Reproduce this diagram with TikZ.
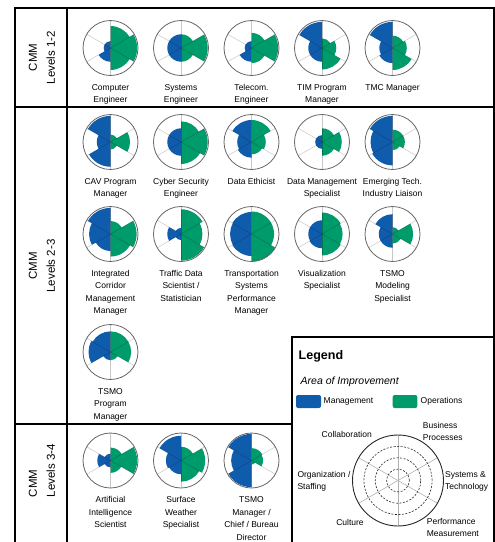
\documentclass[tikz,border=0pt]{standalone}
\usepackage{fontspec}
\setmainfont{Liberation Sans}
\definecolor{mgmtblue}{RGB}{16,92,172}
\definecolor{opsgreen}{RGB}{0,155,106}
\tikzset{
  frame/.style={line width=1.6pt},
  spoke/.style={black, opacity=0.22, line width=0.5pt},
  rim/.style={black!60, line width=0.8pt},
  rolelabel/.style={anchor=north, align=center, inner sep=0pt, font=\fontsize{8.5}{12.5}\selectfont},
  levellabel/.style={rotate=90, inner sep=0pt, font=\fontsize{11.5}{18}\selectfont},
  legendtext/.style={inner sep=0pt, font=\fontsize{8.5}{12}\selectfont},
  keybox/.style={rounded corners=2pt},
}
\def\rr{27.5}
\newcommand{\rolechart}[9]{%
  \begin{scope}[shift={(#2)}]
    \coordinate (#1) at (0,0);
    \fill[mgmtblue] (0,0) -- (90:#3*\rr) arc[start angle=90,end angle=150,radius=#3*\rr]
      -- (150:#4*\rr) arc[start angle=150,end angle=210,radius=#4*\rr]
      -- (210:#5*\rr) arc[start angle=210,end angle=270,radius=#5*\rr] -- cycle;
    \fill[opsgreen] (0,0) -- (90:#6*\rr) arc[start angle=90,end angle=30,radius=#6*\rr]
      -- (30:#7*\rr) arc[start angle=30,end angle=-30,radius=#7*\rr]
      -- (-30:#8*\rr) arc[start angle=-30,end angle=-90,radius=#8*\rr] -- cycle;
    \foreach \a in {90,30,-30,-90,-150,150} \draw[spoke] (0,0) -- (\a:\rr);
    \draw[rim] (0,0) circle[radius=\rr];
    \node[rolelabel] (#1-label) at (0,-36) {#9};
  \end{scope}}
\begin{document}
\begin{tikzpicture}[x=1pt,y=1pt]
  \useasboundingbox (0,0) rectangle (495,-542);
  \draw[frame] (15,-542) -- (15,-8) -- (494.2,-8) -- (494.2,-542);
  \draw[frame] (67,-8) -- (67,-542);
  \draw[frame] (15,-107) -- (494.2,-107);
  \draw[frame] (15,-424) -- (292,-424);
  \draw[frame] (292,-542) -- (292,-337) -- (494.2,-337);

  \node[levellabel, align=center] (lvl12) at (42,-57.5) {CMM\\Levels 1-2};
  \node[levellabel, align=center] (lvl23) at (42,-266) {CMM\\Levels 2-3};
  \node[levellabel, align=left] (lvl34) at (42,-470.5) {CMM\\Levels 3-4};

  \rolechart{compeng}{110.5,-48}{0.25}{0.25}{0.5}{0.8}{0.97}{0.8}{Computer\\Engineer}
  \rolechart{syseng}{181,-48}{0.5}{0.5}{0.5}{0.5}{0.97}{0.5}{Systems\\Engineer}
  \rolechart{teleng}{251.5,-48}{0.25}{0.25}{0.5}{0.55}{0.97}{0.55}{Telecom.\\Engineer}
  \rolechart{timpm}{322,-48}{0.95}{0.5}{0.5}{0.35}{0.52}{0.78}{TIM Program\\Manager}
  \rolechart{tmcmgr}{392.5,-48}{0.95}{0.48}{0.55}{0.45}{0.52}{0.8}{TMC Manager}

  \rolechart{cavpm}{110.5,-142}{0.95}{0.5}{0.9}{0.27}{0.71}{0.27}{CAV Program\\Manager}
  \rolechart{cybeng}{181,-142}{0.5}{0.5}{0.5}{0.75}{0.97}{0.8}{Cyber Security\\Engineer}
  \rolechart{dataeth}{251.5,-142}{0.8}{0.52}{0.57}{0.8}{0.52}{0.45}{Data Ethicist}
  \rolechart{datamgmt}{322,-142}{0.25}{0.25}{0.25}{0.5}{0.72}{0.5}{Data Management\\Specialist}
  \rolechart{emerg}{392.5,-142}{0.95}{0.8}{0.85}{0.45}{0.45}{0.3}{Emerging Tech.\\Industry Liaison}

  \rolechart{icmmgr}{110.5,-234}{0.95}{0.78}{0.62}{0.47}{0.95}{0.82}{Integrated\\Corridor\\Management\\Manager}
  \rolechart{trafsci}{181,-234}{0.22}{0.5}{0.22}{0.9}{0.78}{0.97}{Traffic Data\\Scientist /\\Statistician}
  \rolechart{tspm}{251.5,-234}{0.8}{0.78}{0.8}{0.82}{0.82}{1}{Transportation\\Systems\\Performance\\Manager}
  \rolechart{vizspec}{322,-234}{0.5}{0.5}{0.52}{0.78}{0.75}{0.78}{Visualization\\Specialist}
  \rolechart{modspec}{392.5,-234}{0.72}{0.5}{0.5}{0.25}{0.75}{0.35}{TSMO\\Modeling\\Specialist}

  \rolechart{tsmopm}{110.5,-352}{0.75}{0.8}{0.3}{0.75}{0.75}{0.3}{TSMO\\Program\\Manager}

  \rolechart{aisci}{110.5,-460.5}{0.25}{0.48}{0.25}{0.47}{0.97}{0.45}{Artificial\\Intelligence\\Scientist}
  \rolechart{weather}{181,-460.5}{0.9}{0.55}{0.5}{0.5}{0.88}{0.77}{Surface\\Weather\\Specialist}
  \rolechart{tsmochief}{251.5,-460.5}{0.97}{0.74}{0.97}{0.45}{0.42}{0.15}{TSMO\\Manager /\\Chief / Bureau\\Director}

  \node[anchor=west, inner sep=0pt, font=\fontsize{12.5}{14}\selectfont\bfseries] (legend-title) at (298.5,-356.7) {Legend};
  \node[anchor=west, inner sep=0pt, font=\fontsize{10.5}{12}\selectfont\itshape] (legend-area) at (300.5,-382) {Area of Improvement};
  \fill[mgmtblue, keybox] (296,-395) rectangle (321,-408);
  \node[legendtext, anchor=west] (mgmt-key) at (323.5,-401.5) {Management};
  \fill[opsgreen, keybox] (392.7,-395) rectangle (417.3,-408);
  \node[legendtext, anchor=west] (ops-key) at (420.5,-401.5) {Operations};

  \begin{scope}[shift={(398,-480.5)}]
    \coordinate (legend-chart) at (0,0);
    \foreach \a in {90,30,-30,-90,-150,150} \draw[black!30, line width=0.6pt] (0,0) -- (\a:45.5);
    \foreach \r in {11.4,22.75,34.1} \draw[black!85, line width=0.6pt, dash pattern=on 2pt off 1.5pt] (0,0) circle[radius=\r];
    \draw[black!85, line width=0.9pt] (0,0) circle[radius=45.5];
  \end{scope}
  \node[legendtext] (collab) at (346.7,-434.3) {Collaboration};
  \node[legendtext, anchor=west, align=left] (busproc) at (422.7,-431) {Business\\Processes};
  \node[legendtext, anchor=west, align=left] (orgstaff) at (297.3,-481.5) {Organization /\\Staffing};
  \node[legendtext, anchor=west, align=left] (systech) at (445,-481.5) {Systems \&\\Technology};
  \node[legendtext] (culture) at (350,-522.7) {Culture};
  \node[legendtext, anchor=west, align=left] (perfmeas) at (426.7,-527.2) {Performance\\Measurement};
\end{tikzpicture}
\end{document}
